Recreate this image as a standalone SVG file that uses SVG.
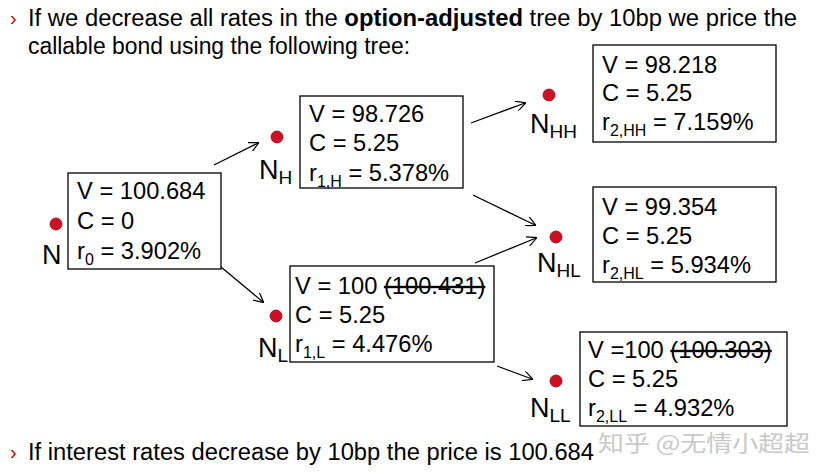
<svg xmlns="http://www.w3.org/2000/svg" width="818" height="476" viewBox="0 0 818 476">
<defs>
<marker id="ah" viewBox="0 0 10 10" refX="9" refY="5" markerWidth="10" markerHeight="10" markerUnits="userSpaceOnUse" orient="auto">
<path d="M0,0 L10,5 L0,10" fill="none" stroke="#000" stroke-width="1.2"/>
</marker>
<style>
.hd{font-family:"Liberation Sans",Arial,sans-serif;font-size:23px;fill:#000}
.bul{font-family:"Liberation Sans",Arial,sans-serif;font-size:20px;fill:#c00000}
.box{fill:#fff;stroke:#000;stroke-width:1.3}
.t{font-family:"Liberation Sans",Arial,sans-serif;font-size:23.7px;fill:#000}
.sub{font-size:16px}
.lab{font-family:"Liberation Sans",Arial,sans-serif;font-size:27px;fill:#000}
.lsub{font-size:19px}
.dot{fill:#cc1126;stroke:#a00010;stroke-width:0.8}
.st{text-decoration:line-through}
.ar{stroke:#000;stroke-width:1.3;fill:none;marker-end:url(#ah)}
.wm{font-family:"Noto Sans CJK SC","Liberation Sans",sans-serif;font-size:22px;fill:#c8c8c8}
</style>
</defs>
<rect width="818" height="476" fill="#fff"/>
<g id="header">
<text class="bul" x="10" y="25">›</text>
<text class="hd" x="28" y="26" textLength="769" lengthAdjust="spacingAndGlyphs">If we decrease all rates in the <tspan font-weight="bold">option-adjusted</tspan> tree by 10bp we price the</text>
<text class="hd" x="28" y="54" textLength="382" lengthAdjust="spacingAndGlyphs">callable bond using the following tree:</text>
</g>
<g id="connectors">
<line class="ar" x1="214" y1="165" x2="258" y2="143"/>
<line class="ar" x1="221" y1="267" x2="263" y2="302"/>
<line class="ar" x1="471" y1="123" x2="525" y2="103"/>
<line class="ar" x1="473" y1="195" x2="535" y2="225"/>
<line class="ar" x1="475" y1="263" x2="536" y2="238"/>
<line class="ar" x1="497" y1="366" x2="532" y2="379"/>
</g>
<g id="node-N">
<circle class="dot" cx="56" cy="224" r="6"/>
<text class="lab" x="42" y="264">N</text>
<rect class="box" x="68" y="173" width="153" height="96"/>
<text class="t" x="77" y="199">V = 100.684</text>
<text class="t" x="77" y="229">C = 0</text>
<text class="t" x="77" y="259">r<tspan class="sub" dy="6">0</tspan><tspan dy="-6"> = 3.902%</tspan></text>
</g>
<g id="node-NH">
<circle class="dot" cx="277" cy="137" r="6"/>
<text class="lab" x="259" y="179">N<tspan class="lsub" dy="5">H</tspan></text>
<rect class="box" x="300" y="96" width="163" height="92"/>
<text class="t" x="309" y="122">V = 98.726</text>
<text class="t" x="309" y="151">C = 5.25</text>
<text class="t" x="309" y="181">r<tspan class="sub" dy="6">1,H</tspan><tspan dy="-6"> = 5.378%</tspan></text>
</g>
<g id="node-NL">
<circle class="dot" cx="276" cy="316" r="6"/>
<text class="lab" x="258" y="357">N<tspan class="lsub" dy="5">L</tspan></text>
<rect class="box" x="290" y="266" width="204" height="96"/>
<text class="t" x="295" y="294">V = 100 <tspan class="st">(100.431)</tspan></text>
<text class="t" x="295" y="323">C = 5.25</text>
<text class="t" x="295" y="352">r<tspan class="sub" dy="6">1,L</tspan><tspan dy="-6"> = 4.476%</tspan></text>
</g>
<g id="node-NHH">
<circle class="dot" cx="549" cy="95" r="6"/>
<text class="lab" x="530" y="133">N<tspan class="lsub" dy="5">HH</tspan></text>
<rect class="box" x="593" y="45" width="183" height="97"/>
<text class="t" x="602" y="73">V = 98.218</text>
<text class="t" x="602" y="101">C = 5.25</text>
<text class="t" x="602" y="130">r<tspan class="sub" dy="6">2,HH</tspan><tspan dy="-6"> = 7.159%</tspan></text>
</g>
<g id="node-NHL">
<circle class="dot" cx="556" cy="237" r="6"/>
<text class="lab" x="537" y="272">N<tspan class="lsub" dy="5">HL</tspan></text>
<rect class="box" x="593" y="187" width="183" height="95"/>
<text class="t" x="602" y="215">V = 99.354</text>
<text class="t" x="602" y="244">C = 5.25</text>
<text class="t" x="602" y="273">r<tspan class="sub" dy="6">2,HL</tspan><tspan dy="-6"> = 5.934%</tspan></text>
</g>
<g id="node-NLL">
<circle class="dot" cx="556" cy="381" r="6"/>
<text class="lab" x="530" y="417">N<tspan class="lsub" dy="5">LL</tspan></text>
<rect class="box" x="580" y="332" width="207" height="94"/>
<text class="t" x="588" y="358">V =100 <tspan class="st">(100.303)</tspan></text>
<text class="t" x="588" y="387">C = 5.25</text>
<text class="t" x="588" y="416">r<tspan class="sub" dy="6">2,LL</tspan><tspan dy="-6"> = 4.932%</tspan></text>
</g>
<g id="footer">
<text class="bul" x="10" y="459">›</text>
<text class="hd" x="28" y="460" textLength="566" lengthAdjust="spacingAndGlyphs">If interest rates decrease by 10bp the price is 100.684</text>
<text class="wm" x="598" y="451" textLength="212" lengthAdjust="spacingAndGlyphs">知乎 @无情小超超</text>
</g>
</svg>
